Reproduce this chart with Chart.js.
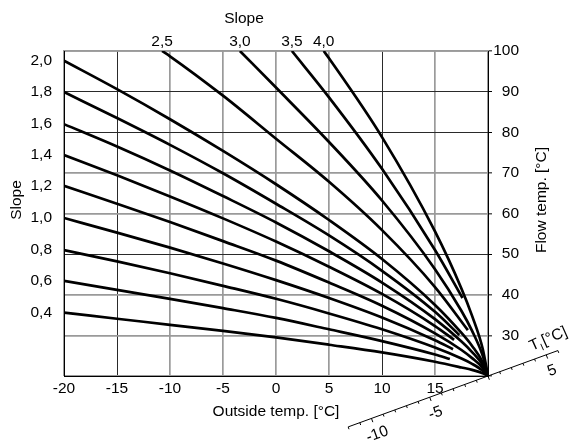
<!DOCTYPE html>
<html>
<head>
<meta charset="utf-8">
<script src="https://cdn.jsdelivr.net/npm/chart.js@4.4.1/dist/chart.umd.min.js"></script>
<style>
  html, body { margin: 0; padding: 0; background: #fff; }
  #wrap { width: 574px; height: 441px; }
</style>
</head>
<body>
<div id="wrap"><canvas id="heatChart" width="574" height="441"></canvas></div>
<script>
// heating curves: flow temp [°C] against outside temp [°C], one curve per slope
var slopeNames = ["0,4", "0,6", "0,8", "1,0", "1,2", "1,4", "1,6", "1,8", "2,0", "2,5", "3,0", "3,5", "4,0"];

var curve04 = [[-20, 35.6], [-15, 34.1], [-10, 32.6], [-5, 31.1], [0, 29.5], [5, 27.7], [10, 25.8], [15, 23.5], [17.5, 22.1], [18.5, 21.5], [19.5, 20.7], [20, 20]];
var curve06 = [[-20, 43.4], [-15, 41.2], [-10, 39.0], [-5, 36.7], [0, 34.3], [5, 31.5], [10, 28.6], [15, 25.3], [16.4, 24.2]];
var curve08 = [[-20, 51.0], [-15, 48.2], [-10, 45.3], [-5, 42.2], [0, 39.0], [5, 35.4], [10, 31.5], [15, 27.0], [17.5, 24.3], [18.5, 23.0], [19.5, 21.3], [20, 20]];
var curve10 = [[-20, 58.9], [-15, 55.3], [-10, 51.6], [-5, 47.7], [0, 43.6], [5, 39.2], [10, 34.4], [15, 28.8], [16.7, 26.6]];
var curve12 = [[-20, 66.8], [-15, 62.4], [-10, 57.9], [-5, 53.2], [0, 48.4], [5, 43.0], [10, 37.3], [15, 30.5], [17.5, 26.4], [18.5, 24.4], [19.5, 22.0], [20, 20]];
var curve14 = [[-20, 74.4], [-15, 69.4], [-10, 64.2], [-5, 58.8], [0, 53.1], [5, 46.9], [10, 40.2], [15, 32.3], [16.8, 28.9]];
var curve16 = [[-20, 82.0], [-15, 76.5], [-10, 70.6], [-5, 64.3], [0, 57.8], [5, 50.7], [10, 43.0], [15, 34.0], [17.5, 28.5], [18.5, 25.9], [19.5, 22.7], [20, 20]];
var curve18 = [[-20, 89.9], [-15, 83.5], [-10, 76.9], [-5, 69.9], [0, 62.4], [5, 54.6], [10, 45.9], [15, 35.8], [17.3, 30.1]];
var curve20 = [[-20, 97.6], [-15, 90.6], [-10, 83.2], [-5, 75.4], [0, 67.2], [5, 58.4], [10, 48.8], [15, 37.5], [17.5, 30.6], [18.5, 27.4], [19.5, 23.4], [20, 20]];
var curve25 = [[-10.75, 100], [-10, 98.7], [-5, 89.0], [0, 78.4], [5, 67.8], [10, 55.9], [15, 41.9], [18.1, 31.3]];
var curve30 = [[-3.4, 100], [0, 91.0], [5, 77.6], [10, 63.2], [15, 46.3], [17.5, 36.0], [18.5, 31.1], [19.5, 25.0], [20, 20]];
var curve35 = [[1.5, 100], [5, 88.6], [10, 71.0], [15, 51.0], [17.6, 39.2]];
var curve40 = [[4.5, 100], [5, 98.2], [10, 78.8], [15, 55.6], [17.5, 41.5], [18.5, 34.8], [19.5, 26.7], [20, 20]];

var curves = [curve04, curve06, curve08, curve10, curve12, curve14, curve16, curve18, curve20,
              curve25, curve30, curve35, curve40];

var outsideTicks = [-20, -15, -10, -5, 0, 5, 10, 15, 20];
var flowTicks = [20, 30, 40, 50, 60, 70, 80, 90, 100];
var roomTicks = [-10, -5, 5];

// slope labels sit where the curves enter the plot: left edge for 0,4..2,0, top edge for 2,5..4,0
var leftCurves = curves.slice(0, 9);
var topCurves = curves.slice(9);
var leftNames = slopeNames.slice(0, 9);
var topNames = slopeNames.slice(9);

var font = { family: "'Liberation Sans', Arial, sans-serif", size: 15.5 };

// the scanned grid has a few thin dark lines among the wider grey ones
var darkGridX = [-15, 10];
var darkGridY = [90, 80, 50];
function gridStyle(darkList, dark, light) {
  return function(c) { return (c.tick && darkList.indexOf(c.tick.value) >= 0) ? dark : light; };
}

var datasets = curves.map(function(c, i) {
  return {
    label: slopeNames[i],
    data: c.map(function(p) { return { x: p[0], y: p[1] }; }),
    borderColor: "#000",
    borderWidth: 2.7,
    pointRadius: 0,
    cubicInterpolationMode: "monotone",
    borderJoinStyle: "round",
    fill: false
  };
});

function drawText(ctx, txt, x, y, rot) {
  ctx.save();
  ctx.translate(x, y);
  ctx.rotate(rot || 0);
  ctx.fillText(txt, 0, 0);
  ctx.restore();
}

var decor = {
  id: "decor",
  afterDraw: function(chart) {
    var ctx = chart.ctx;
    var sx = chart.scales.x, sy = chart.scales.y;
    ctx.save();
    ctx.fillStyle = "#000";
    ctx.font = font.size + "px " + font.family;
    ctx.textAlign = "center";
    ctx.textBaseline = "middle";

    // axis titles
    drawText(ctx, "Slope", 244, 19);
    drawText(ctx, "Slope", 17, 200, -Math.PI / 2);
    drawText(ctx, "Flow temp. [°C]", 542, 200, -Math.PI / 2);
    drawText(ctx, "Outside temp. [°C]", 276, 412);

    // oblique room temperature axis through the meeting point of the curves
    var cx = sx.getPixelForValue(20), cy = sy.getPixelForValue(20);
    var ang = 20 * Math.PI / 180;
    var ux = Math.cos(ang), uy = -Math.sin(ang);
    var nx = Math.sin(ang), ny = Math.cos(ang);
    var unit = 12.4;
    ctx.strokeStyle = "#000";
    ctx.lineWidth = 1;
    ctx.beginPath();
    ctx.moveTo(cx - 12 * unit * ux, cy - 12 * unit * uy);
    ctx.lineTo(cx + 6 * unit * ux, cy + 6 * unit * uy);
    ctx.stroke();
    ctx.beginPath();
    for (var t = -12; t <= 6; t++) {
      var len = (t % 5 === 0) ? 4 : 2.5;
      var px = cx + t * unit * ux, py = cy + t * unit * uy;
      ctx.moveTo(px, py);
      ctx.lineTo(px + len * nx, py + len * ny);
    }
    ctx.stroke();
    roomTicks.forEach(function(v) {
      var px = cx + v * unit * ux + 17 * nx, py = cy + v * unit * uy + 17 * ny;
      drawText(ctx, String(v), px, py, -ang);
    });

    // T_I [°C]
    ctx.save();
    ctx.translate(532, 351);
    ctx.rotate(-0.42);
    ctx.textAlign = "left";
    ctx.textBaseline = "alphabetic";
    ctx.fillText("T", 0, 0);
    ctx.font = "10px " + font.family;
    ctx.fillText("I", 9.5, 4);
    ctx.font = font.size + "px " + font.family;
    ctx.fillText("[°C]", 13.5, 0);
    ctx.restore();

    ctx.restore();
  }
};

new Chart(document.getElementById("heatChart"), {
  type: "line",
  data: { datasets: datasets },
  plugins: [decor],
  options: {
    responsive: false,
    animation: false,
    layout: { padding: { left: 0, top: 0, bottom: 0, right: 55 } },
    plugins: { legend: { display: false }, tooltip: { enabled: false } },
    scales: {
      x: {
        type: "linear", position: "bottom", min: -20, max: 20,
        afterBuildTicks: function(s) { s.ticks = outsideTicks.map(function(v) { return { value: v }; }); },
        ticks: { color: "#000", font: font, padding: 3, maxRotation: 0, autoSkip: false,
                 callback: function(v) { return v === 20 ? "" : String(v); } },
        grid: { color: gridStyle(darkGridX, "#2a2a2a", "#9a9a9a"),
                lineWidth: gridStyle(darkGridX, 1, 1.7), drawTicks: false },
        border: { color: "#000", width: 1 },
        afterFit: function(s) { s.height = 65; }
      },
      xTop: {
        type: "linear", position: "top", min: -20, max: 20,
        afterBuildTicks: function(s) { s.ticks = topCurves.map(function(c) { return { value: c[0][0] }; }); },
        ticks: { color: "#000", font: font, padding: 0, maxRotation: 0, autoSkip: false,
                 callback: function(v, i) { return topNames[i]; } },
        grid: { display: false, drawTicks: false },
        border: { color: "#9a9a9a", width: 1.7 },
        afterFit: function(s) { s.height = 51; }
      },
      y: {
        type: "linear", position: "right", min: 20, max: 100,
        afterBuildTicks: function(s) { s.ticks = flowTicks.map(function(v) { return { value: v }; }); },
        ticks: { color: "#000", font: font, padding: 4, crossAlign: "far", autoSkip: false,
                 callback: function(v) { return v === 20 ? "" : String(v); } },
        grid: { color: gridStyle(darkGridY, "#2a2a2a", "#9a9a9a"),
                lineWidth: gridStyle(darkGridY, 1, 1.7),
                tickLength: 4, tickColor: "#000", tickWidth: 1 },
        border: { color: "#000", width: 1 },
        afterFit: function(s) { s.width = 31; }
      },
      yS: {
        type: "linear", position: "left", min: 20, max: 100,
        afterBuildTicks: function(s) { s.ticks = leftCurves.map(function(c) { return { value: c[0][1] }; }); },
        ticks: { color: "#000", font: font, padding: 12, autoSkip: false,
                 callback: function(v, i) { return leftNames[i]; } },
        grid: { display: false, drawTicks: false },
        border: { color: "#000", width: 1 },
        afterFit: function(s) { s.width = 64; }
      }
    }
  }
});
</script>
</body>
</html>
